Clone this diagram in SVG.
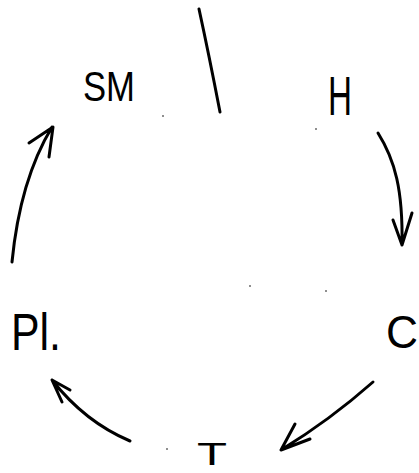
<svg xmlns="http://www.w3.org/2000/svg" width="419" height="473" viewBox="0 0 419 473">
<style>
.lbl{font-family:"Liberation Sans",Arial,sans-serif;fill:#000}
.ln{fill:none;stroke:#000;stroke-width:3;stroke-linecap:round;stroke-linejoin:round}
</style>
<rect width="419" height="473" fill="#fff"/>
<path class="ln" d="M199,9 Q209,55 220,112"/>
<g id="node-SM"><text class="lbl" x="83" y="101" font-size="42" textLength="52" lengthAdjust="spacingAndGlyphs">SM</text></g>
<g id="node-H"><text class="lbl" x="328" y="115" font-size="55" textLength="24" lengthAdjust="spacingAndGlyphs">H</text></g>
<g id="node-C"><text class="lbl" x="386" y="348" font-size="46" textLength="32" lengthAdjust="spacingAndGlyphs">C</text></g>
<g id="node-T"><text class="lbl" x="197" y="465" font-size="32" textLength="30" lengthAdjust="spacingAndGlyphs">T</text></g>
<g id="node-Pl"><text class="lbl" x="11" y="350" font-size="52" textLength="50" lengthAdjust="spacingAndGlyphs">Pl.</text></g>
<g id="connectors">
<path class="ln" d="M12,262 Q20,180 52,127 M29,143 L53,127 L49,157"/>
<path class="ln" d="M378,133 C395,160 403,190 402,245 M393,220 L402,245 L412,213"/>
<path class="ln" d="M373,382 Q330,420 281,450 M295,424 L281,450 L310,439"/>
<path class="ln" d="M130,441 Q85,422 52,380 M62,402 L52,380 L70,390"/>
</g>
<g fill="#000">
<circle cx="163" cy="116" r="0.8"/>
<circle cx="316" cy="129" r="0.8"/>
<circle cx="250" cy="286" r="0.8"/>
<circle cx="326" cy="291" r="0.8"/>
<circle cx="167" cy="449" r="0.8"/>
</g>
</svg>
